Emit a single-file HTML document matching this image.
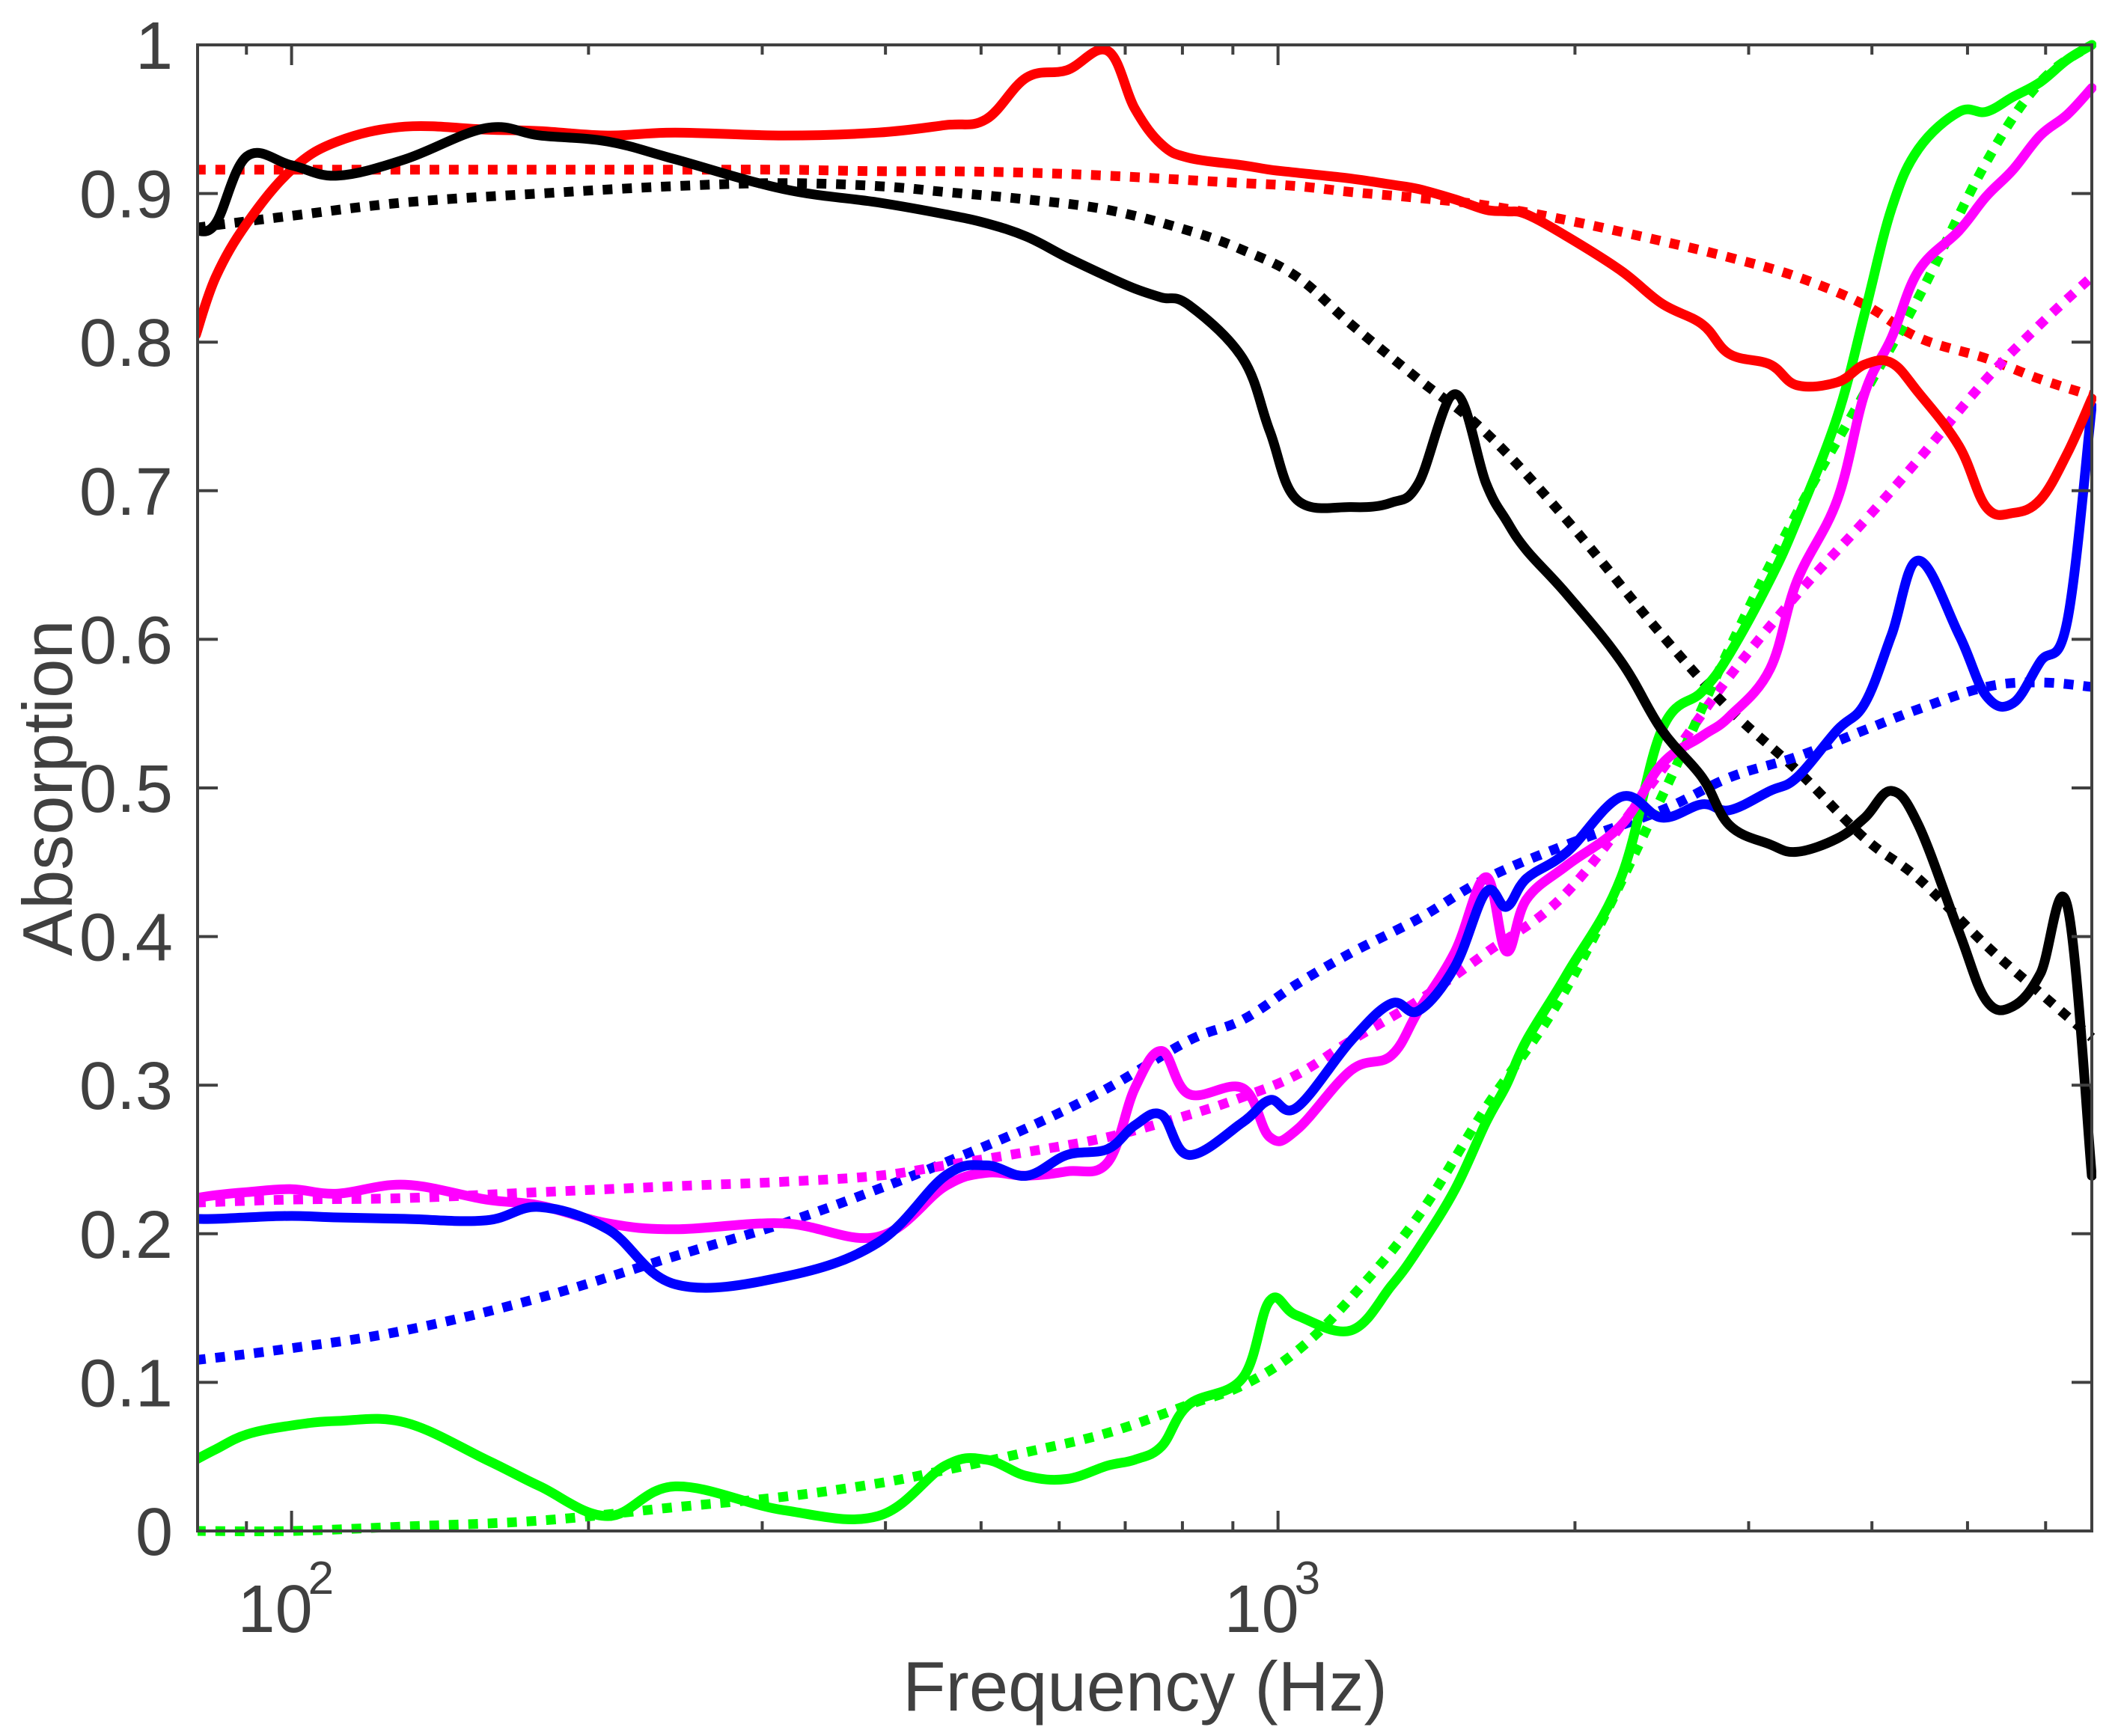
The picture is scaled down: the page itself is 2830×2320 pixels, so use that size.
<!DOCTYPE html>
<html><head><meta charset="utf-8"><title>Absorption vs Frequency</title>
<style>
html,body{margin:0;padding:0;background:#fff;}
svg{display:block;font-family:"Liberation Sans",Arial,sans-serif;}
</style></head>
<body>
<svg id="chart" width="2830" height="2320" viewBox="0 0 2830 2320" xmlns="http://www.w3.org/2000/svg">
<rect x="0" y="0" width="2830" height="2320" fill="#fff"/>
<g id="series"></g>
<g id="axes"></g>
</svg>
<script>
// ---- data ----
const freqGrid = [80,83.8,90.1,100,111.3,130.3,157.5,178.6,209.2,244.9,315.2,393,460,506,556,611,672,716,762,812,921,981,1045,1186,1303,1388,1512,1625,1704,1786,1964,2228,2449,2692,2868,3153,3357,3690,3935,4188,4459,4902,5223,5560,5926,6310,6683];
const redSolid = [.805,.844,.880,.916,.935,.945,.943,.942,.939,.941,.939,.941,.946,.950,.978,.983,.996,.957,.933,.924,.919,.916,.914,.910,.906,.903,.896,.889,.888,.886,.871,.848,.826,.812,.792,.785,.771,.773,.785,.786,.766,.730,.689,.685,.694,.725,.762];
const blackSolid = [.875,.880,.925,.919,.912,.923,.944,.939,.935,.923,.903,.894,.886,.880,.871,.857,.844,.836,.830,.825,.789,.74,.694,.689,.692,.705,.765,.705,.68,.66,.63,.585,.539,.507,.475,.462,.457,.466,.480,.498,.475,.403,.357,.353,.375,.421,.239];
const blueSolid = [.210,.210,.211,.212,.211,.210,.209,.218,.203,.166,.171,.194,.239,.246,.239,.253,.257,.273,.280,.253,.275,.29,.285,.33,.355,.35,.38,.43,.42,.439,.457,.494,.480,.489,.485,.498,.507,.539,.557,.603,.653,.603,.562,.557,.585,.612,.757];
const magentaSolid = [.224,.226,.228,.230,.227,.233,.223,.219,.207,.203,.207,.198,.232,.241,.239,.242,.248,.298,.323,.294,.298,.265,.27,.31,.32,.35,.39,.44,.39,.425,.448,.475,.516,.535,.548,.580,.639,.694,.766,.803,.848,.875,.898,.916,.939,.953,.971];
const greenSolid = [.048,.055,.065,.071,.074,.073,.048,.030,.010,.030,.014,.010,.044,.048,.037,.035,.044,.048,.057,.085,.103,.155,.145,.135,.165,.19,.23,.275,.30,.33,.375,.44,.539,.565,.59,.64,.68,.75,.82,.89,.93,.955,.955,.965,.975,.99,1.0];

const fitFreq = [80,100,130.3,178.6,244.9,315.2,393,460,556,672,812,921,1045,1186,1388,1625,1964,2449,2868,3357,3935,4459,5223,5926,6683];
const redFit = [.916,.916,.916,.916,.916,.916,.915,.915,.914,.912,.909,.907,.905,.901,.897,.892,.882,.868,.857,.844,.825,.803,.789,.775,.764];
const blackFit = [.877,.885,.894,.900,.905,.907,.905,.901,.896,.889,.875,.862,.844,.812,.775,.739,.680,.603,.553,.512,.466,.439,.394,.362,.332];
const blueFit = [.115,.123,.135,.157,.185,.207,.230,.248,.271,.298,.330,.344,.368,.389,.412,.439,.462,.485,.507,.521,.539,.553,.568,.571,.568];
const magentaFit = [.221,.223,.224,.228,.232,.235,.239,.246,.255,.265,.280,.292,.307,.330,.357,.389,.430,.512,.575,.630,.680,.721,.775,.812,.844];
const greenFit = [0,0,.003,.007,.016,.023,.032,.041,.053,.066,.085,.098,.121,.157,.212,.285,.366,.494,.594,.685,.766,.830,.921,.975,1.0];

const yTicks = [0,0.1,0.2,0.3,0.4,0.5,0.6,0.7,0.8,0.9,1];
const yTickLabels = ["0","0.1","0.2","0.3","0.4","0.5","0.6","0.7","0.8","0.9","1"];
const xMajor = [100,1000];
const xMajorExp = ["2","3"];
const xMinor = [90,200,300,400,500,600,700,800,900,2000,3000,4000,5000,6000];

// ---- layout ----
const L=264, T=60, R=2795, B=2046;
const XMIN=80.3, XMAX=6683;
const NS="http://www.w3.org/2000/svg";
function sx(f){return L+(Math.log10(f)-Math.log10(XMIN))/(Math.log10(XMAX)-Math.log10(XMIN))*(R-L);}
function sy(v){return B-v*(B-T);}
function mk(tag,attrs,parent){const e=document.createElementNS(NS,tag);for(const k in attrs)e.setAttribute(k,attrs[k]);parent.appendChild(e);return e;}

const sg=document.getElementById('series');
const clip=mk('clipPath',{id:'pc'},sg);
mk('rect',{x:L,y:T-10,width:R-L+6,height:B-T+20},clip);
sg.setAttribute('clip-path','url(#pc)');

function smoothPath(p){
  let d='M'+p[0][0].toFixed(1)+','+p[0][1].toFixed(1);
  for(let i=0;i<p.length-1;i++){
    const p0=p[i-1]||p[i], p1=p[i], p2=p[i+1], p3=p[i+2]||p2;
    const t=0.18;
    const c1=[p1[0]+(p2[0]-p0[0])*t, p1[1]+(p2[1]-p0[1])*t];
    const c2=[p2[0]-(p3[0]-p1[0])*t, p2[1]-(p3[1]-p1[1])*t];
    d+=' C'+c1[0].toFixed(1)+','+c1[1].toFixed(1)+' '+c2[0].toFixed(1)+','+c2[1].toFixed(1)+' '+p2[0].toFixed(1)+','+p2[1].toFixed(1);
  }
  return d;
}
function drawLine(fs,vs,color,dotted,name){
  const pts=fs.map((f,i)=>[sx(f),sy(vs[i])]);
  const p=mk('path',{d:smoothPath(pts),fill:'none',stroke:color,'stroke-width':13,'stroke-linejoin':'round','stroke-linecap':dotted?'butt':'round'},sg);
  if(dotted)p.setAttribute('stroke-dasharray','13 13');
  
  
}
drawLine(fitFreq,redFit,'#ff0000',true,'red-fit-line');
drawLine(fitFreq,blackFit,'#000000',true,'black-fit-line');
drawLine(fitFreq,blueFit,'#0000ff',true,'blue-fit-line');
drawLine(fitFreq,magentaFit,'#ff00ff',true,'magenta-fit-line');
drawLine(fitFreq,greenFit,'#00ff00',true,'green-fit-line');
drawLine(freqGrid,greenSolid,'#00ff00',false,'green-measured-line');
drawLine(freqGrid,magentaSolid,'#ff00ff',false,'magenta-measured-line');
drawLine(freqGrid,blueSolid,'#0000ff',false,'blue-measured-line');
drawLine(freqGrid,redSolid,'#ff0000',false,'red-measured-line');
drawLine(freqGrid,blackSolid,'#000000',false,'black-measured-line');

// ---- axes ----
const ag=document.getElementById('axes');
const AC='#404040';
const box=mk('rect',{x:L,y:T,width:R-L,height:B-T,fill:'none',stroke:AC,'stroke-width':4},ag);


yTicks.forEach((v,i)=>{
  const y=sy(v);
  mk('line',{x1:L,y1:y,x2:L+27,y2:y,stroke:AC,'stroke-width':4},ag);
  mk('line',{x1:R,y1:y,x2:R-27,y2:y,stroke:AC,'stroke-width':4},ag);
  const t=mk('text',{x:231,y:y+32,'text-anchor':'end','font-size':90,fill:AC},ag);
  t.textContent=yTickLabels[i];
  
  
});
xMinor.forEach(f=>{
  const x=sx(f);
  mk('line',{x1:x,y1:B,x2:x,y2:B-13,stroke:AC,'stroke-width':4},ag);
  mk('line',{x1:x,y1:T,x2:x,y2:T+13,stroke:AC,'stroke-width':4},ag);
});
xMajor.forEach((f,i)=>{
  const x=sx(f);
  mk('line',{x1:x,y1:B,x2:x,y2:B-27,stroke:AC,'stroke-width':4},ag);
  mk('line',{x1:x,y1:T,x2:x,y2:T+27,stroke:AC,'stroke-width':4},ag);
  const t=mk('text',{x:x-22,y:2181,'text-anchor':'middle','font-size':90,fill:AC},ag);
  t.textContent='10';
  
  
  const s=mk('text',{x:x+22,y:2130,'text-anchor':'start','font-size':62,fill:AC},ag);
  s.textContent=xMajorExp[i];
  
  
});
const xt=mk('text',{x:1530,y:2286,'text-anchor':'middle','font-size':94,fill:AC},ag);
xt.textContent='Frequency (Hz)';


const yt=mk('text',{x:0,y:0,'text-anchor':'middle','font-size':94,fill:AC,transform:'translate(96,1053) rotate(-90)'},ag);
yt.textContent='Absorption';


</script>
</body></html>
